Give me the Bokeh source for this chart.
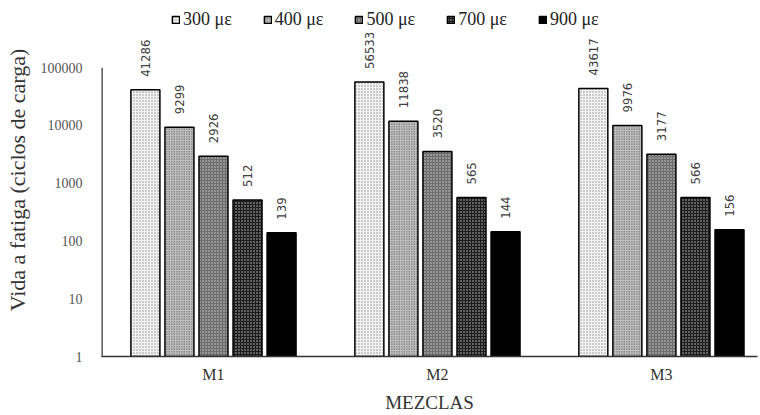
import math
from bokeh.plotting import figure
from bokeh.models import (ColumnDataSource, Range1d, FixedTicker, NumeralTickFormatter,
                          Legend, LegendItem, LabelSet)
from bokeh.core.properties import value
from bokeh.embed import file_html
from bokeh.resources import INLINE

# ---- data ----
mezclas = ["M1", "M2", "M3"]
series = ["300 με", "400 με", "500 με", "700 με", "900 με"]
v300 = [41286, 56533, 43617]
v400 = [9299, 11838, 9976]
v500 = [2926, 3520, 3177]
v700 = [512, 565, 566]
v900 = [139, 144, 156]
y_ticks = [1, 10, 100, 1000, 10000, 100000]

values = [v300, v400, v500, v700, v900]

fills = ["#f2f2f2", "#c2c2c2", "#6e6e6e", "#1e1e1e", "#000000"]
hatch_pat = [".", ".", ".", ".", " "]
hatch_col = ["#909090", "#4a4a4a", "#d0d0d0", "#c0c0c0", "#000000"]
hatch_sc = [3, 2.5, 3, 3, 3]

x_start = 0.5
p = figure(width=760, height=415, y_axis_type="log",
           x_range=Range1d(x_start, 3.429), y_range=Range1d(1, 10 ** 6.11),
           output_backend="svg", toolbar_location=None,
           min_border_left=101, min_border_right=3, min_border_top=3, min_border_bottom=59)
p.outline_line_color = None
p.xgrid.visible = False
p.ygrid.visible = False

# y axis line only up to the top tick
p.segment(x0=[x_start], y0=[y_ticks[0]], x1=[x_start], y1=[y_ticks[-1]],
          line_color="#333333", line_width=2.5)

step = 0.152
bw = 0.1295
items = []
for j, (name, vals) in enumerate(zip(series, values)):
    xs = [i + 1 + (j - 2) * step for i in range(len(mezclas))]
    src = ColumnDataSource(dict(x=xs, top=vals, lab=[str(v) for v in vals]))
    r = p.vbar(x="x", top="top", bottom=1, width=bw, source=src,
               fill_color=fills[j], line_color="#000000", line_width=1.5,
               hatch_pattern=hatch_pat[j], hatch_color=hatch_col[j], hatch_scale=hatch_sc[j],
               hatch_weight=1)
    labels = LabelSet(x="x", y="top", text="lab", source=src, angle=math.pi / 2,
                      text_align="left", text_baseline="middle", y_offset=13,
                      text_font=value("'Liberation Sans Narrow', 'DejaVu Sans Condensed', 'Roboto'"),
                      text_font_size=value("13px"), text_color=value("#404040"))
    p.add_layout(labels)
    items.append(LegendItem(label=name, renderers=[r]))

legend = Legend(items=items, orientation="horizontal", location=(70, 326),
                glyph_width=9, glyph_height=9, label_standoff=3, spacing=31,
                label_height=16, padding=2, margin=0, border_line_color=None,
                background_fill_alpha=0, label_text_font="Liberation Serif",
                label_text_font_style="normal",
                label_text_font_size="18px", label_text_color="#222222")
p.add_layout(legend, "center")

# y axis
p.yaxis.ticker = FixedTicker(ticks=y_ticks)
p.yaxis.formatter = NumeralTickFormatter(format="0")
p.yaxis.minor_tick_line_color = None
p.yaxis.major_tick_line_color = None
p.yaxis.major_tick_out = 0
p.yaxis.major_label_standoff = 19
p.yaxis.major_label_text_font = "Liberation Serif"
p.yaxis.major_label_text_font_size = "14px"
p.yaxis.major_label_text_color = "#555555"
p.yaxis.axis_line_color = None
p.yaxis.axis_label = "Vida a fatiga (ciclos de carga)"
p.yaxis.axis_label_text_font = "Liberation Serif"
p.yaxis.axis_label_text_font_style = "normal"
p.yaxis.axis_label_text_font_size = "22px"
p.yaxis.axis_label_text_color = "#333333"
p.yaxis.axis_label_standoff = 8

# x axis
p.xaxis.ticker = FixedTicker(ticks=[i + 1 for i in range(len(mezclas))])
p.xaxis.major_label_overrides = {i + 1: m for i, m in enumerate(mezclas)}
p.xaxis.minor_tick_line_color = None
p.xaxis.major_tick_line_color = None
p.xaxis.major_tick_out = 0
p.xaxis.major_label_standoff = 9
p.xaxis.major_label_text_font = "Liberation Serif"
p.xaxis.major_label_text_font_size = "16px"
p.xaxis.major_label_text_color = "#333333"
p.xaxis.axis_line_color = "#333333"
p.xaxis.axis_line_width = 1.5
p.xaxis.axis_label = "MEZCLAS"
p.xaxis.axis_label_text_font = "Liberation Serif"
p.xaxis.axis_label_text_font_style = "normal"
p.xaxis.axis_label_text_font_size = "19px"
p.xaxis.axis_label_text_color = "#333333"
p.xaxis.axis_label_standoff = 6

open("out.html", "w").write(file_html(p, INLINE))
